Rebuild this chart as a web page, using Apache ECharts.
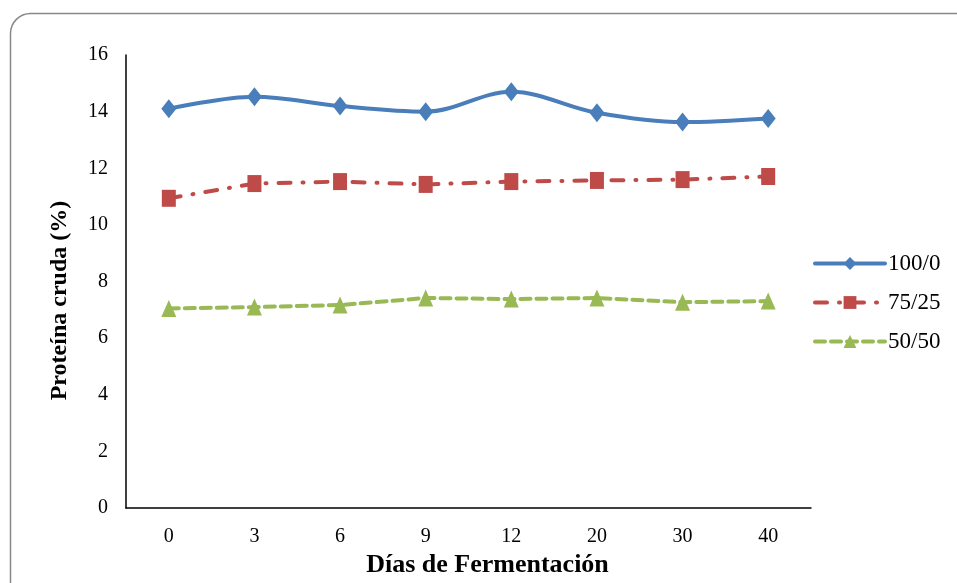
<!DOCTYPE html>
<html>
<head>
<meta charset="utf-8">
<script src="https://cdn.jsdelivr.net/npm/echarts@6/dist/echarts.min.js"></script>
<style>html,body{margin:0;padding:0;background:#fff;}#c{width:957px;height:583px;}</style>
</head>
<body>
<div id="c"></div>
<script>
var categories = ['0', '3', '6', '9', '12', '20', '30', '40'];
var s100_0 = [14.1, 14.53, 14.2, 14.0, 14.7, 13.96, 13.63, 13.76];
var s75_25 = [10.94, 11.46, 11.53, 11.43, 11.53, 11.57, 11.6, 11.71];
var s50_50 = [7.05, 7.1, 7.17, 7.42, 7.38, 7.42, 7.27, 7.31];
var yTicks = {min: 0, max: 16, interval: 2};

var font = '"Liberation Serif", "Times New Roman", serif';
var chart = echarts.init(document.getElementById('c'));
chart.setOption({
  animation: false,
  textStyle: {fontFamily: font},
  graphic: [{
    type: 'rect',
    shape: {x: 10.5, y: 13.5, width: 980, height: 600, r: 20},
    style: {fill: 'none', stroke: '#888', lineWidth: 1.5},
    z: -1
  }],
  grid: {left: 126, right: 146, top: 55, bottom: 73},
  legend: {
    orient: 'vertical',
    left: 808,
    top: 247,
    itemGap: 16,
    itemWidth: 70,
    itemHeight: 16,
    lineStyle: {width: 4},
    textStyle: {fontFamily: font, fontSize: 23, color: '#000', padding: [0, 0, 0, -2]},
    data: ['100/0', '75/25', '50/50']
  },
  xAxis: {
    type: 'category',
    data: categories,
    boundaryGap: true,
    axisLine: {lineStyle: {color: '#000', width: 1.5}},
    axisTick: {show: false},
    axisLabel: {fontFamily: font, fontSize: 20, color: '#000', margin: 19},
    name: 'Días de Fermentación',
    nameLocation: 'middle',
    nameGap: 40,
    nameTextStyle: {fontFamily: font, fontSize: 26, fontWeight: 'bold', color: '#000', padding: [0, 0, 0, 38]}
  },
  yAxis: {
    type: 'value',
    min: yTicks.min, max: yTicks.max, interval: yTicks.interval,
    splitLine: {show: false},
    axisLine: {show: true, lineStyle: {color: '#000', width: 1.5}},
    axisTick: {show: false},
    axisLabel: {fontFamily: font, fontSize: 20, color: '#000', margin: 18},
    name: 'Proteína cruda (%)',
    nameLocation: 'middle',
    nameGap: 54,
    nameTextStyle: {fontFamily: font, fontSize: 24, fontWeight: 'bold', color: '#000', padding: [0, 38, 0, 0]}
  },
  series: [
    {
      name: '100/0', type: 'line', data: s100_0, smooth: 0.35,
      symbol: 'diamond', symbolSize: [15, 19],
      itemStyle: {color: '#4A7EBB'},
      lineStyle: {color: '#4A7EBB', width: 4, cap: 'round'}
    },
    {
      name: '75/25', type: 'line', data: s75_25,
      symbol: 'rect', symbolSize: [14, 17],
      itemStyle: {color: '#BE4B48'},
      lineStyle: {color: '#BE4B48', width: 4, type: [12, 12, 1, 12], cap: 'round'}
    },
    {
      name: '50/50', type: 'line', data: s50_50,
      symbol: 'triangle', symbolSize: [15, 17],
      itemStyle: {color: '#98B954'},
      lineStyle: {color: '#98B954', width: 4, type: [10, 6], cap: 'round'}
    }
  ]
});
</script>
</body>
</html>
